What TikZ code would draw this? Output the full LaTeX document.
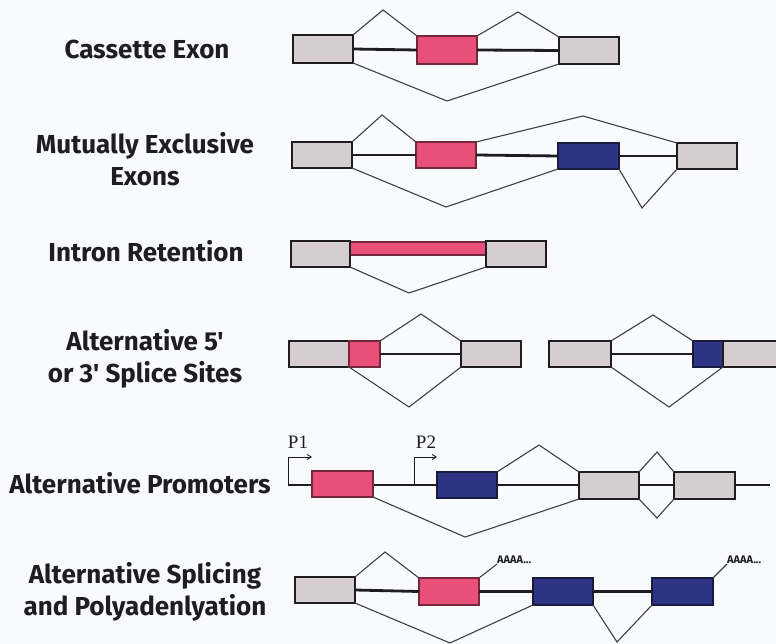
\documentclass[tikz,border=0pt]{standalone}
\usepackage{fontspec}
\setmainfont{Liberation Serif}
\newfontfamily\labfont{Fira Sans}
\usetikzlibrary{arrows.meta}
\definecolor{exgrey}{HTML}{D5CDD0}
\definecolor{expink}{HTML}{E8507A}
\definecolor{exblue}{HTML}{2F3482}
\definecolor{bgcol}{HTML}{F8FAFC}
\definecolor{ink}{HTML}{1E1E22}
\tikzset{
 exon/.style={draw=ink, line width=2.1pt, inner sep=0pt, outer sep=0pt},
 greyex/.style={exon, fill=exgrey},
 pinkex/.style={exon, fill=expink, draw=expink!50!black},
 blueex/.style={exon, fill=exblue, draw=exblue!50!black},
 intron/.style={draw=ink, line width=2.8pt},
 splice/.style={draw=ink!85, line width=1.1pt},
 promoter/.style={draw=ink, line width=0.9pt, -{Straight Barb[length=4pt,width=5pt]}},
 rowlabel/.style={font=\labfont\bfseries\fontsize{26}{31.5}\selectfont, align=center, text=ink, inner sep=0pt},
 plabel/.style={font=\fontsize{19}{19}\selectfont, text=ink, inner sep=0pt},
 polya/.style={font=\labfont\bfseries\fontsize{11}{11}\selectfont, text=ink, inner sep=0pt, anchor=south west}
}
\newcommand\exonbox[6]{\node[#1, minimum width={(#5)-(#3)}, minimum height={(#6)-(#4)}] (#2) at ({((#3)+(#5))/2},{((#4)+(#6))/2}) {};}
\begin{document}
\begin{tikzpicture}[x=1pt,y=-1pt]
\clip (0,0) rectangle (776,644);
\fill[bgcol] (0,0) rectangle (776,644);

% labels
\node[rowlabel] (l1) at (147,49) {Cassette Exon};
\node[rowlabel] (l2) at (145,159) {Mutually Exclusive\\Exons};
\node[rowlabel] (l3) at (146,251) {Intron Retention};
\node[rowlabel] (l4) at (145,359) {Alternative 5'\\or 3' Splice Sites};
\node[rowlabel] (l5) at (140,483) {Alternative Promoters};
\node[rowlabel] (l6) at (145,592) {Alternative Splicing\\and Polyadenlyation};

% Row 1: cassette exon
\exonbox{greyex}{a1}{293}{35}{353}{63}
\exonbox{pinkex}{a2}{417}{36}{477}{64}
\exonbox{greyex}{a3}{559}{37}{619}{64}
\draw[intron] (a1.east) -- (a2.west);
\draw[intron] (a2.east) -- (a3.west);
\coordinate (a1t) at (383,10);
\coordinate (a2t) at (518,12);
\coordinate (a1b) at (447,101);
\draw[splice] (a1.north east) -- (a1t) -- (a2.north west);
\draw[splice] (a2.north east) -- (a2t) -- (a3.north west);
\draw[splice] (a1.south east) -- (a1b) -- (a3.south west);

% Row 2: mutually exclusive exons
\exonbox{greyex}{b1}{292}{142}{352}{168}
\exonbox{pinkex}{b2}{416}{142}{476}{168}
\exonbox{blueex}{b3}{558}{143}{619}{169}
\exonbox{greyex}{b4}{677}{143}{737}{169}
\draw[intron] (b1.east) -- (b2.west);
\draw[intron] (b2.east) -- (b3.west);
\draw[intron] (b3.east) -- (b4.west);
\coordinate (b1t) at (382,115);
\coordinate (b2t) at (583,116);
\coordinate (b1b) at (446,207);
\coordinate (b2b) at (642,208);
\draw[splice] (b1.north east) -- (b1t) -- (b2.north west);
\draw[splice] (b2.north east) -- (b2t) -- (b4.north west);
\draw[splice] (b1.south east) -- (b1b) -- (b3.south west);
\draw[splice] (b3.south east) -- (b2b) -- (b4.south west);

% Row 3: intron retention
\exonbox{pinkex}{c2}{350}{242}{486}{255}
\exonbox{greyex}{c1}{291}{241}{350}{267}
\exonbox{greyex}{c3}{486}{241}{546}{267}
\coordinate (c1b) at (409,293);
\draw[splice] (c1.south east) -- (c1b) -- (c3.south west);

% Row 4: alternative 5' / 3' splice sites
\exonbox{greyex}{d1}{289}{341}{349}{367}
\exonbox{pinkex}{d2}{349}{341}{380}{367}
\exonbox{greyex}{d3}{461}{341}{521}{367}
\draw[intron] (d2.east) -- (d3.west);
\coordinate (d1t) at (421,314);
\coordinate (d1b) at (409,407);
\draw[splice] (d2.north east) -- (d1t) -- (d3.north west);
\draw[splice] (d1.south east) -- (d1b) -- (d3.south west);
\exonbox{greyex}{e1}{549}{341}{611}{367}
\exonbox{blueex}{e2}{693}{341}{723}{367}
\exonbox{greyex}{e3}{723}{341}{790}{367}
\draw[intron] (e1.east) -- (e2.west);
\coordinate (e1t) at (653,315);
\coordinate (e1b) at (669,407);
\draw[splice] (e1.north east) -- (e1t) -- (e2.north west);
\draw[splice] (e1.south east) -- (e1b) -- (e3.south west);

% Row 5: alternative promoters
\coordinate (fs) at (288,485);
\coordinate (fe) at (770,485);
\coordinate (p2) at (414,485);
\draw[intron] (fs) -- (fe);
\exonbox{pinkex}{f1}{312}{471}{373}{497}
\exonbox{blueex}{f2}{437}{472}{497}{498}
\exonbox{greyex}{f3}{579}{472}{639}{499}
\exonbox{greyex}{f4}{674}{472}{735}{499}
\draw[promoter] (fs) -- ++(0,-28) -- ++(24,0);
\draw[promoter] (p2) -- ++(0,-28) -- ++(23,0);
\node[plabel] (tp1) at (298,442) {P1};
\node[plabel] (tp2) at (426,442) {P2};
\coordinate (f1t) at (539,445);
\coordinate (f1b) at (465,537);
\coordinate (f2t) at (657,452);
\coordinate (f2b) at (657,518);
\draw[splice] (f2.north east) -- (f1t) -- (f3.north west);
\draw[splice] (f1.south east) -- (f1b) -- (f3.south west);
\draw[splice] (f3.north east) -- (f2t) -- (f4.north west);
\draw[splice] (f3.south east) -- (f2b) -- (f4.south west);

% Row 6: alternative splicing and polyadenylation
\exonbox{greyex}{g1}{295}{577}{355}{603}
\exonbox{pinkex}{g2}{419}{578}{479}{605}
\exonbox{blueex}{g3}{533}{578}{593}{605}
\exonbox{blueex}{g4}{652}{578}{713}{605}
\draw[intron] (g1.east) -- (g2.west);
\draw[intron] (g2.east) -- (g3.west);
\draw[intron] (g3.east) -- (g4.west);
\coordinate (g1t) at (385,552);
\coordinate (g1b) at (450,643);
\coordinate (g2b) at (617,642);
\draw[splice] (g1.north east) -- (g1t) -- (g2.north west);
\draw[splice] (g1.south east) -- (g1b) -- (g3.south west);
\draw[splice] (g3.south east) -- (g2b) -- (g4.south west);
\coordinate (pa1) at (497,564);
\coordinate (pa2) at (727,564);
\draw[splice] (g2.north east) -- (pa1);
\draw[splice] (g4.north east) -- (pa2);
\node[polya] (ta1) at (pa1) {AAAA...};
\node[polya] (ta2) at (pa2) {AAAA...};
\end{tikzpicture}
\end{document}
